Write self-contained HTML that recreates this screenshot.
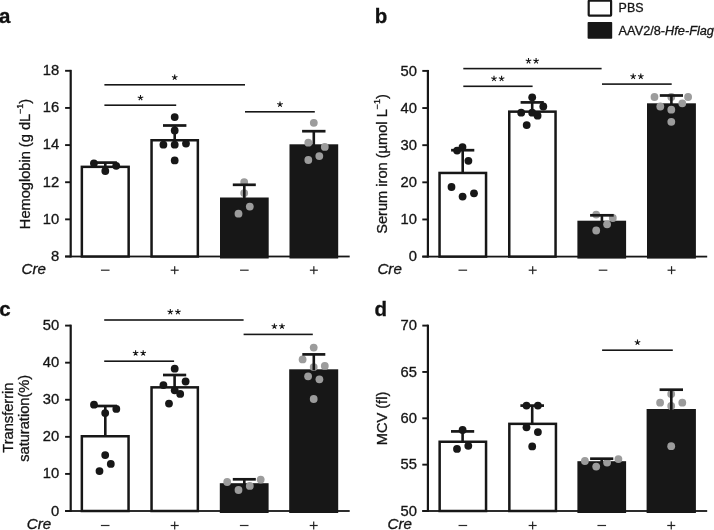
<!DOCTYPE html>
<html><head><meta charset="utf-8"><title>Figure</title>
<style>html,body{margin:0;padding:0;background:#fff;}text{stroke:#151515;stroke-width:0.3px;}svg{display:block;filter:grayscale(1);font-family:"Liberation Sans",sans-serif;}</style>
</head><body>
<svg width="714" height="530" viewBox="0 0 714 530">
<rect width="714" height="530" fill="#fff"/>
<text x="-0.9" y="23.3" font-size="20.5" font-weight="bold" fill="#111">a</text>
<text x="374.7" y="23.4" font-size="20.5" font-weight="bold" fill="#111">b</text>
<text x="-0.7" y="315.9" font-size="20.5" font-weight="bold" fill="#111">c</text>
<text x="374.5" y="315.9" font-size="20.5" font-weight="bold" fill="#111">d</text>
<rect x="588.7" y="0.6" width="22.4" height="15" rx="0.6" fill="#fff" stroke="#171717" stroke-width="2.2"/>
<rect x="587.6" y="22" width="24.6" height="16.8" rx="0.8" fill="#171717"/>
<text transform="translate(618.6,12.1) scale(1.02,1)" font-size="12.2" fill="#151515">PBS</text>
<text transform="translate(618.6,34.6) scale(1.045,1)" font-size="12.2" fill="#151515">AAV2/8-<tspan font-style="italic">Hfe-Flag</tspan></text>
<rect x="69.60" y="69.85" width="2.2" height="187.60" fill="#171717"/>
<rect x="65.10" y="255.60" width="284.60" height="1.8" fill="#171717"/>
<rect x="65.10" y="69.85" width="5.6" height="1.9" fill="#171717"/>
<text transform="translate(59.20,75.20) scale(1.055,1)" text-anchor="end" font-size="14" fill="#151515">18</text>
<rect x="65.10" y="106.99" width="5.6" height="1.9" fill="#171717"/>
<text transform="translate(59.20,112.34) scale(1.055,1)" text-anchor="end" font-size="14" fill="#151515">16</text>
<rect x="65.10" y="144.13" width="5.6" height="1.9" fill="#171717"/>
<text transform="translate(59.20,149.48) scale(1.055,1)" text-anchor="end" font-size="14" fill="#151515">14</text>
<rect x="65.10" y="181.27" width="5.6" height="1.9" fill="#171717"/>
<text transform="translate(59.20,186.62) scale(1.055,1)" text-anchor="end" font-size="14" fill="#151515">12</text>
<rect x="65.10" y="218.41" width="5.6" height="1.9" fill="#171717"/>
<text transform="translate(59.20,223.76) scale(1.055,1)" text-anchor="end" font-size="14" fill="#151515">10</text>
<rect x="65.10" y="255.55" width="5.6" height="1.9" fill="#171717"/>
<text transform="translate(59.20,260.90) scale(1.055,1)" text-anchor="end" font-size="14" fill="#151515">8</text>
<text transform="translate(30.3,164) rotate(-90) scale(1.045,1)" text-anchor="middle" font-size="14" fill="#151515">Hemoglobin (g dL<tspan font-size="8.5" dy="-7.6">−1</tspan><tspan dy="7.6">)</tspan></text>
<text x="21.6" y="274.10" font-size="15.2" font-style="italic" fill="#151515">Cre</text>
<rect x="81.85" y="166.85" width="46.80" height="89.65" fill="#fff" stroke="#171717" stroke-width="2.5"/>
<rect x="151.55" y="140.25" width="46.30" height="116.25" fill="#fff" stroke="#171717" stroke-width="2.5"/>
<rect x="220.00" y="197.50" width="48.70" height="61.00" fill="#171717"/>
<rect x="289.50" y="144.30" width="48.70" height="114.20" fill="#171717"/>
<rect x="104.00" y="162.60" width="2.6" height="4.00" fill="#171717"/>
<rect x="93.70" y="161.25" width="23.20" height="2.7" fill="#171717"/>
<circle cx="93.90" cy="163.30" r="3.9" fill="#171717"/>
<circle cx="116.20" cy="165.80" r="3.9" fill="#171717"/>
<circle cx="105.30" cy="171.00" r="3.9" fill="#171717"/>
<rect x="100.95" y="269.60" width="8.6" height="1.2" fill="#2a2a2a"/>
<rect x="173.40" y="125.50" width="2.6" height="14.50" fill="#171717"/>
<rect x="163.00" y="124.15" width="23.40" height="2.7" fill="#171717"/>
<circle cx="174.70" cy="117.10" r="3.9" fill="#171717"/>
<circle cx="174.70" cy="130.40" r="3.9" fill="#171717"/>
<circle cx="163.40" cy="144.70" r="3.9" fill="#171717"/>
<circle cx="174.70" cy="144.70" r="3.9" fill="#171717"/>
<circle cx="186.00" cy="143.60" r="3.9" fill="#171717"/>
<circle cx="174.70" cy="160.40" r="3.9" fill="#171717"/>
<rect x="170.70" y="269.60" width="8" height="1.2" fill="#222"/>
<rect x="174.10" y="266.20" width="1.2" height="8" fill="#222"/>
<circle cx="244.20" cy="182.10" r="3.9" fill="#9c9c9c"/>
<circle cx="244.20" cy="193.10" r="3.9" fill="#9c9c9c"/>
<circle cx="249.80" cy="206.60" r="3.9" fill="#9c9c9c"/>
<circle cx="238.50" cy="213.70" r="3.9" fill="#9c9c9c"/>
<rect x="243.00" y="184.80" width="2.6" height="13.70" fill="#171717"/>
<rect x="232.80" y="183.45" width="23.00" height="2.7" fill="#171717"/>
<rect x="240.05" y="269.60" width="8.6" height="1.2" fill="#2a2a2a"/>
<circle cx="313.80" cy="122.80" r="3.9" fill="#9c9c9c"/>
<circle cx="308.30" cy="142.70" r="3.9" fill="#9c9c9c"/>
<circle cx="324.80" cy="146.90" r="3.9" fill="#9c9c9c"/>
<circle cx="319.30" cy="156.10" r="3.9" fill="#9c9c9c"/>
<circle cx="308.30" cy="160.00" r="3.9" fill="#9c9c9c"/>
<rect x="312.50" y="131.20" width="2.6" height="14.10" fill="#171717"/>
<rect x="302.10" y="129.85" width="23.40" height="2.7" fill="#171717"/>
<rect x="309.85" y="269.60" width="8" height="1.2" fill="#222"/>
<rect x="313.25" y="266.20" width="1.2" height="8" fill="#222"/>
<rect x="104.40" y="84.00" width="140.60" height="1.6" fill="#171717"/>
<path d="M174.70 77.40L174.70 74.50M174.70 77.40L177.46 76.50M174.70 77.40L176.40 79.75M174.70 77.40L173.00 79.75M174.70 77.40L171.94 76.50" stroke="#171717" stroke-width="1.1" fill="none"/>
<circle cx="174.70" cy="77.40" r="0.85" fill="#171717"/>
<rect x="104.40" y="104.40" width="71.80" height="1.6" fill="#171717"/>
<path d="M140.50 97.80L140.50 94.90M140.50 97.80L143.26 96.90M140.50 97.80L142.20 100.15M140.50 97.80L138.80 100.15M140.50 97.80L137.74 96.90" stroke="#171717" stroke-width="1.1" fill="none"/>
<circle cx="140.50" cy="97.80" r="0.85" fill="#171717"/>
<rect x="245.00" y="111.00" width="69.80" height="1.6" fill="#171717"/>
<path d="M280.00 104.40L280.00 101.50M280.00 104.40L282.76 103.50M280.00 104.40L281.70 106.75M280.00 104.40L278.30 106.75M280.00 104.40L277.24 103.50" stroke="#171717" stroke-width="1.1" fill="none"/>
<circle cx="280.00" cy="104.40" r="0.85" fill="#171717"/>
<rect x="426.80" y="69.95" width="2.2" height="187.60" fill="#171717"/>
<rect x="422.30" y="255.70" width="284.90" height="1.8" fill="#171717"/>
<rect x="422.30" y="69.95" width="5.6" height="1.9" fill="#171717"/>
<text transform="translate(417.00,75.50) scale(1.055,1)" text-anchor="end" font-size="14" fill="#151515">50</text>
<rect x="422.30" y="107.09" width="5.6" height="1.9" fill="#171717"/>
<text transform="translate(417.00,112.64) scale(1.055,1)" text-anchor="end" font-size="14" fill="#151515">40</text>
<rect x="422.30" y="144.23" width="5.6" height="1.9" fill="#171717"/>
<text transform="translate(417.00,149.78) scale(1.055,1)" text-anchor="end" font-size="14" fill="#151515">30</text>
<rect x="422.30" y="181.37" width="5.6" height="1.9" fill="#171717"/>
<text transform="translate(417.00,186.92) scale(1.055,1)" text-anchor="end" font-size="14" fill="#151515">20</text>
<rect x="422.30" y="218.51" width="5.6" height="1.9" fill="#171717"/>
<text transform="translate(417.00,224.06) scale(1.055,1)" text-anchor="end" font-size="14" fill="#151515">10</text>
<rect x="422.30" y="255.65" width="5.6" height="1.9" fill="#171717"/>
<text transform="translate(417.00,261.20) scale(1.055,1)" text-anchor="end" font-size="14" fill="#151515">0</text>
<text transform="translate(387.1,164) rotate(-90) scale(1.045,1)" text-anchor="middle" font-size="14" fill="#151515">Serum iron (µmol L<tspan font-size="8.5" dy="-7.6">−1</tspan><tspan dy="7.6">)</tspan></text>
<text x="377.4" y="274.10" font-size="15.2" font-style="italic" fill="#151515">Cre</text>
<rect x="439.55" y="172.95" width="46.50" height="83.65" fill="#fff" stroke="#171717" stroke-width="2.5"/>
<rect x="509.25" y="111.65" width="46.30" height="144.95" fill="#fff" stroke="#171717" stroke-width="2.5"/>
<rect x="577.40" y="220.70" width="48.70" height="37.90" fill="#171717"/>
<rect x="647.00" y="103.30" width="48.90" height="155.30" fill="#171717"/>
<rect x="461.40" y="150.20" width="2.6" height="22.50" fill="#171717"/>
<rect x="451.10" y="148.85" width="23.20" height="2.7" fill="#171717"/>
<circle cx="462.50" cy="147.10" r="3.9" fill="#171717"/>
<circle cx="457.10" cy="150.60" r="3.9" fill="#171717"/>
<circle cx="468.40" cy="160.80" r="3.9" fill="#171717"/>
<circle cx="451.50" cy="187.00" r="3.9" fill="#171717"/>
<circle cx="462.60" cy="196.60" r="3.9" fill="#171717"/>
<circle cx="474.00" cy="193.30" r="3.9" fill="#171717"/>
<rect x="458.50" y="269.60" width="8.6" height="1.2" fill="#2a2a2a"/>
<rect x="530.90" y="102.40" width="2.6" height="9.00" fill="#171717"/>
<rect x="520.60" y="101.05" width="23.20" height="2.7" fill="#171717"/>
<circle cx="532.20" cy="97.30" r="3.9" fill="#171717"/>
<circle cx="543.30" cy="106.50" r="3.9" fill="#171717"/>
<circle cx="521.20" cy="112.70" r="3.9" fill="#171717"/>
<circle cx="532.20" cy="112.70" r="3.9" fill="#171717"/>
<circle cx="537.60" cy="115.70" r="3.9" fill="#171717"/>
<circle cx="526.70" cy="125.10" r="3.9" fill="#171717"/>
<rect x="528.70" y="269.60" width="8" height="1.2" fill="#222"/>
<rect x="532.10" y="266.20" width="1.2" height="8" fill="#222"/>
<circle cx="596.20" cy="214.60" r="3.9" fill="#9c9c9c"/>
<circle cx="612.80" cy="218.00" r="3.9" fill="#9c9c9c"/>
<circle cx="607.10" cy="224.30" r="3.9" fill="#9c9c9c"/>
<circle cx="596.20" cy="230.50" r="3.9" fill="#9c9c9c"/>
<rect x="600.60" y="215.30" width="2.6" height="6.40" fill="#171717"/>
<rect x="590.10" y="213.95" width="23.60" height="2.7" fill="#171717"/>
<rect x="598.75" y="269.60" width="8.6" height="1.2" fill="#2a2a2a"/>
<circle cx="654.50" cy="97.00" r="3.9" fill="#9c9c9c"/>
<circle cx="671.30" cy="97.00" r="3.9" fill="#9c9c9c"/>
<circle cx="688.10" cy="97.00" r="3.9" fill="#9c9c9c"/>
<circle cx="660.30" cy="106.50" r="3.9" fill="#9c9c9c"/>
<circle cx="682.30" cy="103.30" r="3.9" fill="#9c9c9c"/>
<circle cx="671.30" cy="109.70" r="3.9" fill="#9c9c9c"/>
<circle cx="671.30" cy="121.80" r="3.9" fill="#9c9c9c"/>
<rect x="670.10" y="95.50" width="2.6" height="8.80" fill="#171717"/>
<rect x="659.80" y="94.15" width="23.20" height="2.7" fill="#171717"/>
<rect x="667.55" y="269.60" width="8" height="1.2" fill="#222"/>
<rect x="670.95" y="266.20" width="1.2" height="8" fill="#222"/>
<rect x="463.30" y="67.80" width="138.30" height="1.6" fill="#171717"/>
<path d="M528.50 61.00L528.50 58.10M528.50 61.00L531.26 60.10M528.50 61.00L530.20 63.35M528.50 61.00L526.80 63.35M528.50 61.00L525.74 60.10" stroke="#171717" stroke-width="1.1" fill="none"/>
<circle cx="528.50" cy="61.00" r="0.85" fill="#171717"/>
<path d="M536.10 61.00L536.10 58.10M536.10 61.00L538.86 60.10M536.10 61.00L537.80 63.35M536.10 61.00L534.40 63.35M536.10 61.00L533.34 60.10" stroke="#171717" stroke-width="1.1" fill="none"/>
<circle cx="536.10" cy="61.00" r="0.85" fill="#171717"/>
<rect x="463.30" y="85.50" width="69.30" height="1.6" fill="#171717"/>
<path d="M494.00 78.70L494.00 75.80M494.00 78.70L496.76 77.80M494.00 78.70L495.70 81.05M494.00 78.70L492.30 81.05M494.00 78.70L491.24 77.80" stroke="#171717" stroke-width="1.1" fill="none"/>
<circle cx="494.00" cy="78.70" r="0.85" fill="#171717"/>
<path d="M501.60 78.70L501.60 75.80M501.60 78.70L504.36 77.80M501.60 78.70L503.30 81.05M501.60 78.70L499.90 81.05M501.60 78.70L498.84 77.80" stroke="#171717" stroke-width="1.1" fill="none"/>
<circle cx="501.60" cy="78.70" r="0.85" fill="#171717"/>
<rect x="602.00" y="83.30" width="69.70" height="1.6" fill="#171717"/>
<path d="M633.20 76.50L633.20 73.60M633.20 76.50L635.96 75.60M633.20 76.50L634.90 78.85M633.20 76.50L631.50 78.85M633.20 76.50L630.44 75.60" stroke="#171717" stroke-width="1.1" fill="none"/>
<circle cx="633.20" cy="76.50" r="0.85" fill="#171717"/>
<path d="M640.80 76.50L640.80 73.60M640.80 76.50L643.56 75.60M640.80 76.50L642.50 78.85M640.80 76.50L639.10 78.85M640.80 76.50L638.04 75.60" stroke="#171717" stroke-width="1.1" fill="none"/>
<circle cx="640.80" cy="76.50" r="0.85" fill="#171717"/>
<rect x="69.60" y="324.65" width="2.2" height="187.30" fill="#171717"/>
<rect x="65.10" y="510.10" width="284.60" height="1.8" fill="#171717"/>
<rect x="65.10" y="324.65" width="5.6" height="1.9" fill="#171717"/>
<text transform="translate(59.20,330.15) scale(1.055,1)" text-anchor="end" font-size="14" fill="#151515">50</text>
<rect x="65.10" y="361.73" width="5.6" height="1.9" fill="#171717"/>
<text transform="translate(59.20,367.23) scale(1.055,1)" text-anchor="end" font-size="14" fill="#151515">40</text>
<rect x="65.10" y="398.81" width="5.6" height="1.9" fill="#171717"/>
<text transform="translate(59.20,404.31) scale(1.055,1)" text-anchor="end" font-size="14" fill="#151515">30</text>
<rect x="65.10" y="435.89" width="5.6" height="1.9" fill="#171717"/>
<text transform="translate(59.20,441.39) scale(1.055,1)" text-anchor="end" font-size="14" fill="#151515">20</text>
<rect x="65.10" y="472.97" width="5.6" height="1.9" fill="#171717"/>
<text transform="translate(59.20,478.47) scale(1.055,1)" text-anchor="end" font-size="14" fill="#151515">10</text>
<rect x="65.10" y="510.05" width="5.6" height="1.9" fill="#171717"/>
<text transform="translate(59.20,515.55) scale(1.055,1)" text-anchor="end" font-size="14" fill="#151515">0</text>
<text transform="translate(13,417.6) rotate(-90) scale(1.045,1)" text-anchor="middle" font-size="14" fill="#151515">Transferrin</text><text transform="translate(29.4,418.3) rotate(-90) scale(1.045,1)" text-anchor="middle" font-size="14" fill="#151515">saturation(%)</text>
<text x="26.8" y="529.40" font-size="15.2" font-style="italic" fill="#151515">Cre</text>
<rect x="81.85" y="436.25" width="46.70" height="74.75" fill="#fff" stroke="#171717" stroke-width="2.5"/>
<rect x="151.55" y="387.35" width="46.30" height="123.65" fill="#fff" stroke="#171717" stroke-width="2.5"/>
<rect x="219.80" y="483.20" width="48.80" height="29.80" fill="#171717"/>
<rect x="289.20" y="369.30" width="49.00" height="143.70" fill="#171717"/>
<rect x="104.00" y="406.00" width="2.6" height="30.00" fill="#171717"/>
<rect x="93.60" y="404.65" width="23.40" height="2.7" fill="#171717"/>
<circle cx="94.00" cy="404.70" r="3.9" fill="#171717"/>
<circle cx="116.30" cy="408.90" r="3.9" fill="#171717"/>
<circle cx="105.20" cy="413.10" r="3.9" fill="#171717"/>
<circle cx="105.20" cy="455.10" r="3.9" fill="#171717"/>
<circle cx="110.80" cy="463.90" r="3.9" fill="#171717"/>
<circle cx="99.50" cy="471.10" r="3.9" fill="#171717"/>
<rect x="100.90" y="524.90" width="8.6" height="1.2" fill="#2a2a2a"/>
<rect x="173.30" y="375.00" width="2.6" height="12.10" fill="#171717"/>
<rect x="163.00" y="373.65" width="23.20" height="2.7" fill="#171717"/>
<circle cx="174.70" cy="368.70" r="3.9" fill="#171717"/>
<circle cx="185.60" cy="381.50" r="3.9" fill="#171717"/>
<circle cx="163.40" cy="385.10" r="3.9" fill="#171717"/>
<circle cx="174.70" cy="390.30" r="3.9" fill="#171717"/>
<circle cx="180.20" cy="393.90" r="3.9" fill="#171717"/>
<circle cx="169.00" cy="403.60" r="3.9" fill="#171717"/>
<rect x="170.70" y="524.90" width="8" height="1.2" fill="#222"/>
<rect x="174.10" y="521.50" width="1.2" height="8" fill="#222"/>
<circle cx="227.20" cy="482.00" r="3.9" fill="#9c9c9c"/>
<circle cx="260.70" cy="479.60" r="3.9" fill="#9c9c9c"/>
<circle cx="249.80" cy="485.90" r="3.9" fill="#9c9c9c"/>
<circle cx="238.50" cy="490.00" r="3.9" fill="#9c9c9c"/>
<rect x="243.00" y="479.30" width="2.6" height="4.90" fill="#171717"/>
<rect x="232.80" y="477.95" width="23.00" height="2.7" fill="#171717"/>
<rect x="239.90" y="524.90" width="8.6" height="1.2" fill="#2a2a2a"/>
<circle cx="313.70" cy="347.60" r="3.9" fill="#9c9c9c"/>
<circle cx="302.60" cy="359.40" r="3.9" fill="#9c9c9c"/>
<circle cx="313.70" cy="367.10" r="3.9" fill="#9c9c9c"/>
<circle cx="324.80" cy="365.90" r="3.9" fill="#9c9c9c"/>
<circle cx="308.10" cy="376.30" r="3.9" fill="#9c9c9c"/>
<circle cx="319.40" cy="379.30" r="3.9" fill="#9c9c9c"/>
<circle cx="313.70" cy="399.00" r="3.9" fill="#9c9c9c"/>
<rect x="312.50" y="354.40" width="2.6" height="15.90" fill="#171717"/>
<rect x="302.30" y="353.05" width="23.00" height="2.7" fill="#171717"/>
<rect x="309.70" y="524.90" width="8" height="1.2" fill="#222"/>
<rect x="313.10" y="521.50" width="1.2" height="8" fill="#222"/>
<rect x="104.20" y="319.20" width="139.40" height="1.6" fill="#171717"/>
<path d="M170.30 311.90L170.30 309.00M170.30 311.90L173.06 311.00M170.30 311.90L172.00 314.25M170.30 311.90L168.60 314.25M170.30 311.90L167.54 311.00" stroke="#171717" stroke-width="1.1" fill="none"/>
<circle cx="170.30" cy="311.90" r="0.85" fill="#171717"/>
<path d="M177.90 311.90L177.90 309.00M177.90 311.90L180.66 311.00M177.90 311.90L179.60 314.25M177.90 311.90L176.20 314.25M177.90 311.90L175.14 311.00" stroke="#171717" stroke-width="1.1" fill="none"/>
<circle cx="177.90" cy="311.90" r="0.85" fill="#171717"/>
<rect x="104.20" y="360.40" width="69.90" height="1.6" fill="#171717"/>
<path d="M135.60 353.10L135.60 350.20M135.60 353.10L138.36 352.20M135.60 353.10L137.30 355.45M135.60 353.10L133.90 355.45M135.60 353.10L132.84 352.20" stroke="#171717" stroke-width="1.1" fill="none"/>
<circle cx="135.60" cy="353.10" r="0.85" fill="#171717"/>
<path d="M143.20 353.10L143.20 350.20M143.20 353.10L145.96 352.20M143.20 353.10L144.90 355.45M143.20 353.10L141.50 355.45M143.20 353.10L140.44 352.20" stroke="#171717" stroke-width="1.1" fill="none"/>
<circle cx="143.20" cy="353.10" r="0.85" fill="#171717"/>
<rect x="243.60" y="333.60" width="69.20" height="1.6" fill="#171717"/>
<path d="M274.40 326.30L274.40 323.40M274.40 326.30L277.16 325.40M274.40 326.30L276.10 328.65M274.40 326.30L272.70 328.65M274.40 326.30L271.64 325.40" stroke="#171717" stroke-width="1.1" fill="none"/>
<circle cx="274.40" cy="326.30" r="0.85" fill="#171717"/>
<path d="M282.00 326.30L282.00 323.40M282.00 326.30L284.76 325.40M282.00 326.30L283.70 328.65M282.00 326.30L280.30 328.65M282.00 326.30L279.24 325.40" stroke="#171717" stroke-width="1.1" fill="none"/>
<circle cx="282.00" cy="326.30" r="0.85" fill="#171717"/>
<rect x="426.80" y="324.65" width="2.2" height="187.30" fill="#171717"/>
<rect x="422.30" y="510.10" width="284.90" height="1.8" fill="#171717"/>
<rect x="422.30" y="324.65" width="5.6" height="1.9" fill="#171717"/>
<text transform="translate(416.90,330.20) scale(1.055,1)" text-anchor="end" font-size="14" fill="#151515">70</text>
<rect x="422.30" y="371.00" width="5.6" height="1.9" fill="#171717"/>
<text transform="translate(416.90,376.55) scale(1.055,1)" text-anchor="end" font-size="14" fill="#151515">65</text>
<rect x="422.30" y="417.35" width="5.6" height="1.9" fill="#171717"/>
<text transform="translate(416.90,422.90) scale(1.055,1)" text-anchor="end" font-size="14" fill="#151515">60</text>
<rect x="422.30" y="463.70" width="5.6" height="1.9" fill="#171717"/>
<text transform="translate(416.90,469.25) scale(1.055,1)" text-anchor="end" font-size="14" fill="#151515">55</text>
<rect x="422.30" y="510.05" width="5.6" height="1.9" fill="#171717"/>
<text transform="translate(416.90,515.60) scale(1.055,1)" text-anchor="end" font-size="14" fill="#151515">50</text>
<text transform="translate(387.2,418.5) rotate(-90) scale(1.045,1)" text-anchor="middle" font-size="14" fill="#151515">MCV (fl)</text>
<text x="387.5" y="529.40" font-size="15.2" font-style="italic" fill="#151515">Cre</text>
<rect x="439.65" y="441.75" width="46.40" height="69.25" fill="#fff" stroke="#171717" stroke-width="2.5"/>
<rect x="509.35" y="423.85" width="46.60" height="87.15" fill="#fff" stroke="#171717" stroke-width="2.5"/>
<rect x="577.40" y="461.20" width="48.70" height="51.80" fill="#171717"/>
<rect x="646.60" y="409.00" width="49.30" height="104.00" fill="#171717"/>
<rect x="461.30" y="431.40" width="2.6" height="10.10" fill="#171717"/>
<rect x="451.00" y="430.05" width="23.20" height="2.7" fill="#171717"/>
<circle cx="462.60" cy="430.00" r="3.9" fill="#171717"/>
<circle cx="468.30" cy="445.80" r="3.9" fill="#171717"/>
<circle cx="457.00" cy="448.90" r="3.9" fill="#171717"/>
<rect x="458.55" y="524.90" width="8.6" height="1.2" fill="#2a2a2a"/>
<rect x="530.90" y="405.60" width="2.6" height="18.00" fill="#171717"/>
<rect x="520.40" y="404.25" width="23.60" height="2.7" fill="#171717"/>
<circle cx="526.50" cy="405.60" r="3.9" fill="#171717"/>
<circle cx="537.90" cy="405.60" r="3.9" fill="#171717"/>
<circle cx="526.50" cy="427.30" r="3.9" fill="#171717"/>
<circle cx="537.90" cy="432.10" r="3.9" fill="#171717"/>
<circle cx="532.20" cy="446.40" r="3.9" fill="#171717"/>
<rect x="528.65" y="524.90" width="8" height="1.2" fill="#222"/>
<rect x="532.05" y="521.50" width="1.2" height="8" fill="#222"/>
<circle cx="584.90" cy="461.00" r="3.9" fill="#9c9c9c"/>
<circle cx="618.40" cy="459.10" r="3.9" fill="#9c9c9c"/>
<circle cx="607.10" cy="462.50" r="3.9" fill="#9c9c9c"/>
<circle cx="596.20" cy="466.60" r="3.9" fill="#9c9c9c"/>
<rect x="600.40" y="458.70" width="2.6" height="3.50" fill="#171717"/>
<rect x="590.10" y="457.35" width="23.20" height="2.7" fill="#171717"/>
<rect x="597.45" y="524.90" width="8.6" height="1.2" fill="#2a2a2a"/>
<circle cx="671.20" cy="394.00" r="3.9" fill="#9c9c9c"/>
<circle cx="660.10" cy="402.70" r="3.9" fill="#9c9c9c"/>
<circle cx="682.30" cy="402.70" r="3.9" fill="#9c9c9c"/>
<circle cx="671.20" cy="406.00" r="3.9" fill="#9c9c9c"/>
<circle cx="671.20" cy="446.20" r="3.9" fill="#9c9c9c"/>
<rect x="670.00" y="389.70" width="2.6" height="20.30" fill="#171717"/>
<rect x="659.60" y="388.35" width="23.40" height="2.7" fill="#171717"/>
<rect x="667.25" y="524.90" width="8" height="1.2" fill="#222"/>
<rect x="670.65" y="521.50" width="1.2" height="8" fill="#222"/>
<rect x="602.10" y="349.40" width="70.70" height="1.6" fill="#171717"/>
<path d="M637.50 342.40L637.50 339.50M637.50 342.40L640.26 341.50M637.50 342.40L639.20 344.75M637.50 342.40L635.80 344.75M637.50 342.40L634.74 341.50" stroke="#171717" stroke-width="1.1" fill="none"/>
<circle cx="637.50" cy="342.40" r="0.85" fill="#171717"/>
</svg>
</body></html>
